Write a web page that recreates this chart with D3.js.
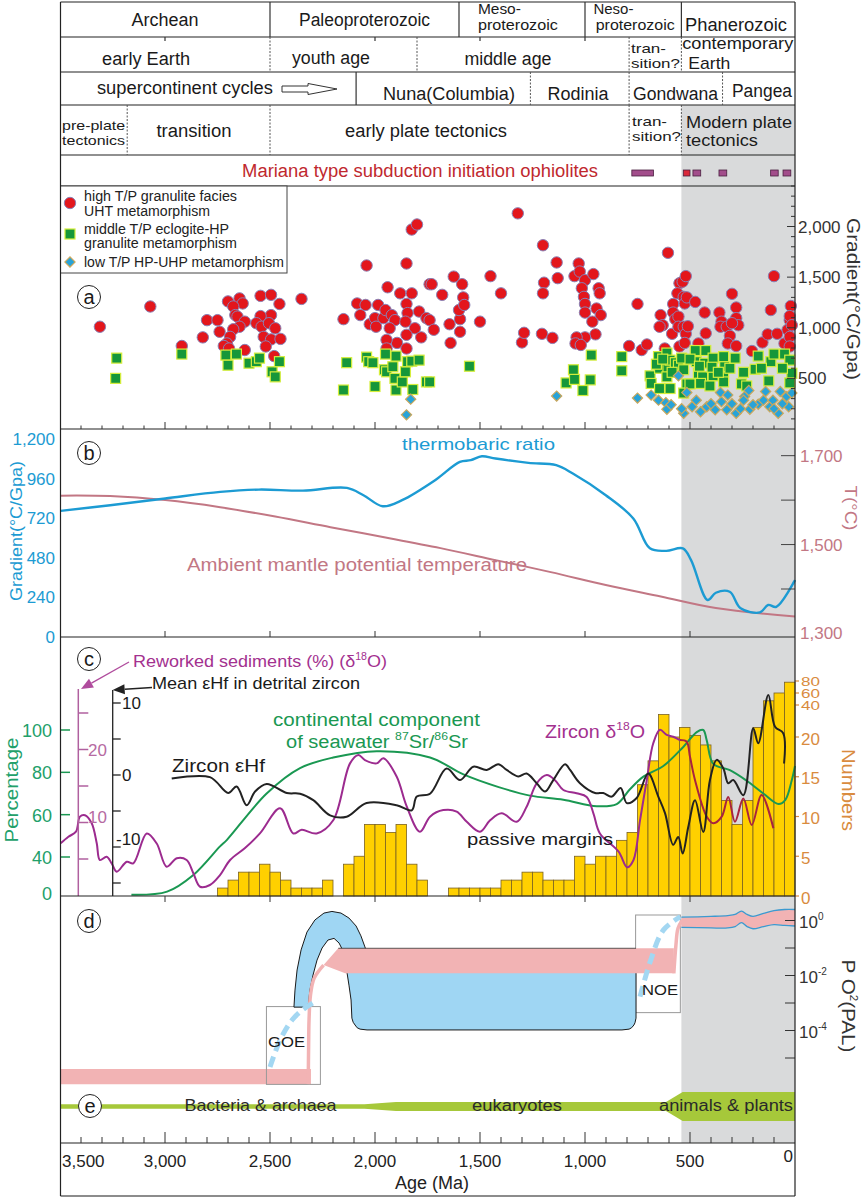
<!DOCTYPE html>
<html lang="en">
<head>
<meta charset="UTF-8">
<title>Earth evolution through time</title>
<script src="https://d3js.org/d3.v7.min.js"></script>
<style>
  body { margin: 0; background: #fff; }
  svg { display: block; }
</style>
</head>
<body>
<script>
// ---------------- data ----------------
const eraBreaks = [2500, 1600, 1000, 541];
const stageBreaks = [2500, 1800, 790, 541];
const nunaStart = 2090;
const supercontinentBreaks = [1260, 790, 345];
const tectonicBreaks = [3180, 2500, 790, 541];
const headerTicks = [3000, 2000, 1500, 1000];
const phanerozoicStart = 541;

// [from Ma, to Ma, colour]
const ophiolites = [[777, 674, "#a24d8b"], [532, 500, "#d9283a"], [486, 449, "#a24d8b"],
  [362, 325, "#a24d8b"], [116, 80, "#a24d8b"], [57, 20, "#a24d8b"]];

// panel a: [age Ma, gradient °C/GPa]
const uhtPoints = [
  [3310,1010],[3070,1210],[2920,820],[2820,905],[2800,1075],[2750,1075],[2740,960],[2700,1260],[2645,1290],[2630,1240],
  [2675,1210],[2665,1125],[2655,1110],[2620,1060],[2645,1010],[2675,985],[2690,910],[2705,845],[2720,820],[2695,795],
  [2620,780],[2545,1315],[2495,1325],[2455,1235],[2495,1125],[2545,1115],[2565,1045],[2540,1010],[2505,1045],[2475,995],
  [2530,910],[2495,885],[2450,890],[2520,815],[2480,720],[2350,1285],[2150,1085],[2085,1240],[2070,1125],[2045,1225],
  [2040,1615],[1985,1225],[2025,1035],[2000,1095],[1995,1010],[1960,1095],[1950,1175],[1940,1400],[1920,1125],[1905,1075],
  [1930,995],[1880,1340],[1850,1635],[1825,1340],[1825,1970],[1800,2020],[1850,1235],[1845,1145],[1855,1060],[1810,995],
  [1790,1160],[1740,1430],[1755,1095],[1780,905],[1850,930],[1895,850],[1945,880],[1945,795],[1850,795],[1730,1430],
  [1740,1075],[1720,980],[1680,1325],[1645,1035],[1640,850],[1625,1505],[1595,1085],[1595,960],[1600,1175],[1585,1430],
  [1580,1300],[1575,1225],[1500,1060],[1450,1510],[1400,1340],[1320,2130],[1300,855],[1290,950],[1205,940],[1200,1815],
  [1195,1445],[1200,1340],[1155,900],[1135,1645],[1130,1490],[1050,1510],[1030,1635],[1025,1555],[1000,1470],[1015,1390],
  [1005,1305],[1000,1235],[1000,1150],[960,1530],[935,1390],[930,1340],[945,1190],[925,1125],[965,1060],[950,935],
  [1000,905],[1040,905],[1045,845],[1020,830],[790,820],[750,1235],[730,780],[705,835],[640,1125],[630,1025],
  [645,1010],[620,795],[605,1740],[585,940],[580,1235],[580,1150],[570,1085],[555,1110],[555,1010],[550,815],
  [550,1440],[560,1340],[535,1455],[520,1510],[530,1305],[525,1240],[530,1010],[520,940],[525,850],[510,1015],
  [515,1300],[475,1255],[460,845],[430,1150],[425,945],[360,1150],[350,1060],[355,1010],[325,1010],[300,1335],
  [280,1200],[280,1095],[270,1025],[300,1045],[310,920],[320,845],[280,820],[205,770],[155,855],[130,935],
  [115,1175],[100,1510],[85,940],[50,845],[35,980],[25,1075],[20,1215],[25,1115],[15,1025],[25,910],[25,815]
];
const hpPoints = [
  [3230,700],[3235,500],[2920,740],[2710,730],[2700,630],[2660,740],[2600,650],[2565,665],[2550,700],[2490,565],
  [2475,515],[2455,665],[2135,655],[2150,385],[2040,710],[2030,665],[2010,655],[2000,420],[1950,740],[1900,720],
  [1955,585],[1945,565],[1915,615],[1905,500],[1900,385],[1870,465],[1855,565],[1845,665],[1825,670],[1790,680],
  [1820,390],[1755,465],[1740,465],[1550,620],[1090,455],[1055,585],[1050,490],[1010,380],[975,485],[970,730],
  [825,715],[825,575],[690,525],[685,450],[650,715],[645,600],[610,750],[605,600],[595,680],[570,655],
  [610,515],[645,400],[595,400],[555,630],[530,585],[515,445],[530,355],[475,775],[425,775],[470,665],
  [430,650],[390,700],[340,715],[335,615],[460,550],[440,515],[390,525],[340,515],[500,445],[450,450],
  [405,425],[340,465],[255,445],[230,425],[190,590],[175,720],[125,475],[115,665],[100,740],[50,740],
  [25,680],[15,550],[25,455],[660,640],[630,690],[585,560],[540,700],[500,690],[455,620],[395,610],
  [365,560],[310,600],[285,700],[245,560],[160,600],[60,600]
];
const uhpPoints = [
  [1830,295],[1850,140],[1135,325],[750,305],[685,335],[650,285],[615,260],[610,195],[555,525],[530,155],
  [515,360],[490,220],[470,285],[450,170],[420,220],[380,190],[355,360],[350,270],[320,335],[325,190],
  [280,155],[240,320],[220,380],[215,195],[175,245],[150,285],[140,370],[120,220],[80,155],[70,370],
  [40,320],[30,220],[15,355],[245,285],[105,285],[400,250],[300,250],[260,200],[200,240],[100,200],
  [60,250],[540,200],[590,240]
];

// panel b
const thermoRatio = [[3497,764],[3261,798],[2999,839],[2737,879],[2553,893],[2343,887],[2134,903],[2055,859],
  [1963,792],[1871,829],[1714,950],[1596,1061],[1544,1071],[1491,1095],[1426,1081],[1269,1055],[1137,1041],
  [1058,990],[901,859],[770,718],[691,537],[613,522],[534,537],[495,466],[416,224],[377,268],[311,274],
  [259,174],[167,149],[128,194],[89,183],[0,345]];
const mantleTemp = [[3497,1610],[3261,1609],[2999,1600],[2737,1584],[2475,1563],[2212,1539],[1950,1516],
  [1688,1492],[1426,1465],[1163,1438],[901,1409],[639,1383],[377,1357],[0,1338]];

// panel c
const srContinental = [[3160,-2],[2990,1.5],[2865,20],[2738,45],[2706,48],[2516,70],[2357,82],[2199,87],[1992,90],
  [1738,87],[1579,79],[1411,73],[1262,69],[1103,67],[944,64],[849,65],[786,72],[722,78],[627,83],[532,92],
  [468,99],[437,100],[420,95],[389,84],[310,81],[230,76],[151,70],[78,65],[46,67],[16,76],[0,83]];
const zirconHf = [[2968,-0.5],[2786,-0.3],[2699,-2.5],[2659,-1.6],[2611,-4.2],[2571,-2.3],[2516,-1.25],[2420,-2.5],
  [2357,-2.6],[2294,-3.5],[2214,-5.6],[2135,-5.8],[2040,-3.9],[1897,-4.2],[1825,-4.9],[1801,-3.0],[1738,-2.6],
  [1659,0.9],[1595,-0.7],[1532,1.15],[1468,0.7],[1413,1.5],[1373,0.7],[1318,-0.2],[1278,0.2],[1230,-1.15],
  [1190,-2.3],[1151,-0.7],[1095,1.5],[1071,0.7],[1024,-1.15],[952,-2.5],[913,-2.5],[873,-3.0],[830,-1.8],
  [801,-3.9],[754,-3.2],[699,0.2],[651,-3.0],[619,-5.3],[580,-9.7],[556,-8.6],[535,-10.9],[508,-7.2],
  [476,-3.5],[437,-7.9],[405,-0.7],[373,2.1],[341,0.9],[318,-1.15],[294,-0.7],[246,-2.8],[199,6.5],
  [175,4.4],[127,11.1],[95,6.7],[56,5.8],[52,1.6]];
const zirconO18 = [[3497,7.15],[3460,8.05],[3424,8.74],[3405,10.8],[3381,11.0],[3349,9.9],[3325,7.15],[3310,4.86],
  [3278,5.3],[3254,4.4],[3230,3.26],[3182,4.63],[3151,4.4],[3087,8.5],[3040,7.15],[2992,3.95],[2944,5.1],
  [2897,4.86],[2865,3.04],[2833,1.2],[2786,1.44],[2738,2.8],[2690,4.86],[2619,6.5],[2548,8.5],[2452,11.95],
  [2389,8.5],[2349,9.0],[2278,8.5],[2199,10.3],[2119,18.1],[2079,19.25],[2048,18.55],[1992,18.1],[1960,18.8],
  [1897,16.3],[1849,12.2],[1786,8.74],[1738,10.8],[1675,11.7],[1611,11.5],[1563,10.1],[1500,8.74],[1452,10.3],
  [1397,11.26],[1325,10.1],[1278,12.16],[1230,15.37],[1182,16.5],[1143,15.8],[1103,14.45],[1040,14.0],
  [992,13.5],[960,11.26],[929,8.5],[840,6.0],[799,3.86],[769,4.86],[738,10.3],[706,15.8],[675,20.85],
  [643,22.7],[611,22.0],[580,21.75],[548,21.3],[516,21.07],[500,19.0],[476,15.8],[420,10.8],[389,9.9],
  [349,10.8],[318,13.5],[286,10.1],[246,13.3],[206,9.66],[159,13.77],[103,9.2]];
const o18Split = 548;
// detrital zircon / passive margin numbers, 50 Myr bins [bin start Ma, count]
const marginBins = [[2700,1],[2650,2],[2600,3],[2550,3],[2500,4],[2450,3],[2400,2],[2350,1],[2300,1],[2250,1],
  [2200,2],[2100,4],[2050,5],[2000,9],[1950,9],[1900,8],[1850,9],[1800,4],[1750,2],[1600,1],[1550,1],[1500,1],
  [1450,1],[1400,1],[1350,2],[1300,2],[1250,3],[1200,3],[1150,2],[1100,2],[1050,2],[1000,5],[950,4],[900,5],
  [850,5],[800,7],[750,8],[700,14],[650,17],[600,34],[550,20],[500,26],[450,21],[400,19],[350,17],[300,12],
  [250,9],[200,12],[150,26],[100,47],[50,60],[0,78]];
const binWidth = 50;

// tick labels
const gradientTicksA = [500, 1000, 1500, 2000];
const gradientTicksB = [0, 240, 480, 720, 960, 1200];
const tempTicks = [1300, 1500, 1700];
const tempMinor = [1400, 1500, 1600, 1700];
const pctTicks = [0, 40, 60, 80, 100];
const hfTicks = [10, 5, 0, -5, -10, -15];
const hfLabels = [10, 0, -10];
const rwTicks = [25, 20, 15, 10, 5];
const rwLabels = [20, 10];
const numTicks = [0, 5, 10, 15, 20, 40, 60, 80];
const o2Ticks = [0, -1, -2, -3, -4, -5];
const o2Labels = [0, -2, -4];
const ageTicks = [3500, 3000, 2500, 2000, 1500, 1000, 500, 0];

// panel d, oxygen [age Ma, log10 pO2 (PAL)]
const archeanO2 = [[3500,-5.4,-5.95],[2305,-5.4,-5.95]];
const goeBox = [[2517,-3.13],[2260,-5.96]];
const noeBox = [[759,0.2],[546,-3.35]];
const blueLobe = [[2386,-3.15],[2381,-2.53],[2371,-1.8],[2352,-1.07],[2324,-0.42],[2286,0.02],[2243,0.27],
  [2205,0.33],[2162,0.27],[2124,0.09],[2090,-0.2],[2067,-0.56],[2048,-0.96],[2043,-1.07],[757,-1.07],
  [757,-3.55],[762,-3.72],[767,-3.8],[778,-3.9],[790,-3.95],[824,-3.98],[2038,-3.98],[2071,-3.95],[2085,-3.9],
  [2095,-3.8],[2104,-3.7],[2110,-3.55],[2114,-2.89],[2124,-2.35],[2133,-1.91],[2138,-1.51],[2152,-1.11],
  [2171,-0.82],[2195,-0.65],[2224,-0.71],[2252,-1.0],[2276,-1.44],[2295,-1.98],[2310,-2.53],[2319,-3.15]];
const pinkArrow = [[2245,-1.62],[2175,-1.01],[577,-1.01],[577,-1.92],[2142,-1.92]];
const goeRise = [[2318,-5.95],[2316,-4.5],[2314,-3.6],[2307,-2.7],[2290,-2.1],[2245,-1.62]];
const goeDash = [[2500,-5.33],[2452,-4.35],[2395,-3.62],[2333,-3.18],[2271,-2.89]];
const noeDash = [[738,-2.77],[687,-1.44],[627,-0.35],[546,0.14]];
const noeRise = [[577,-1.92],[567,-0.89],[557,-0.28],[536,0.02]];
const modernO2 = [[541,0.12,-0.25],[400,0.15,-0.27],[320,0.18,-0.27],[285,0.22,-0.22],[255,0.34,-0.08],
  [228,0.22,-0.22],[200,0.15,-0.3],[150,0.26,-0.22],[100,0.36,-0.15],[50,0.4,-0.18],[0,0.4,-0.2]];

// panel e, life band [age, half width]
const lifeBand = [[3500,2.2],[2050,2.2],[1900,4.5],[560,4.5]];
const animalsBand = [[650,0],[535,14.5],[0,14.5]];

// ---------------- drawing ----------------
const W = 863, H = 1198;
const FONT = "'Liberation Sans', Arial, Helvetica, sans-serif";
const svg = d3.select("body").append("svg")
  .attr("width", W).attr("height", H)
  .style("font-family", FONT);
svg.append("rect").attr("width", W).attr("height", H).attr("fill", "#fff");

const x = d3.scaleLinear().domain([3500, 0]).range([60, 795]);
const xL = 60.5, xR = 795;
const rows = [2, 37, 72, 105, 155, 186];
const yA = d3.scaleLinear().domain([0, 2400]).range([429, 186]);
const yB = d3.scaleLinear().domain([0, 1260]).range([637, 429]);
const yT = d3.scaleLinear().domain([1292, 1760]).range([637, 429]);
const yPct = d3.scaleLinear().domain([0, 40, 100]).range([893, 857, 730]);
const yHf = d3.scaleLinear().domain([-15, 10]).range([883, 703]);
const yRw = d3.scaleLinear().domain([5, 25]).range([859, 713]);
const yNum = d3.scaleLinear().domain([0, 20, 40, 60, 80]).range([896, 737, 705, 693, 681]);
const yO2 = d3.scaleLinear().domain([-5, 0]).range([1058, 920.5]);
const yE = d3.scaleLinear().domain([-15, 15]).range([1121.5, 1091.5]);

const BLUE = "#1c9bd3", MAUVE = "#c27784", GREEN = "#1a9852", PURPLE = "#9c2b8f",
  ORANGE = "#d98b3e", INK = "#1a1a1a";

function text(g, px, py, s, o = {}) {
  const t = g.append("text").attr("x", px).attr("y", py)
    .attr("font-size", o.size || 17).attr("fill", o.fill || INK)
    .attr("text-anchor", o.anchor || "start");
  if (o.html) t.html(s); else t.text(s);
  if (o.len) t.attr("textLength", o.len).attr("lengthAdjust", "spacingAndGlyphs");
  return t;
}
function rotText(g, px, py, rot, s, o = {}) {
  const t = g.append("text").attr("transform", `translate(${px},${py}) rotate(${rot})`)
    .attr("font-size", o.size || 18).attr("fill", o.fill || INK).attr("text-anchor", "middle");
  if (o.html) t.html(s); else t.text(s);
  if (o.len) t.attr("textLength", o.len).attr("lengthAdjust", "spacingAndGlyphs");
  return t;
}
function hline(y, c = "#222", w = 1.2) {
  svg.append("line").attr("x1", xL).attr("x2", xR).attr("y1", y).attr("y2", y)
    .attr("stroke", c).attr("stroke-width", w);
}
function vline(age, y0, y1, dashed) {
  svg.append("line").attr("x1", x(age)).attr("x2", x(age)).attr("y1", y0).attr("y2", y1)
    .attr("stroke", dashed ? "#555" : "#333").attr("stroke-width", dashed ? 1 : 1.2)
    .attr("stroke-dasharray", dashed ? "2,1.5" : null);
}
function panelLabel(cx, cy, s) {
  svg.append("circle").attr("cx", cx).attr("cy", cy).attr("r", 11.5)
    .attr("fill", "#fff").attr("stroke", "#222").attr("stroke-width", 1);
  text(svg, cx, cy + 7, s, { size: 20, anchor: "middle" });
}

// grey Phanerozoic band
svg.append("rect").attr("x", x(phanerozoicStart)).attr("y", rows[3])
  .attr("width", xR - x(phanerozoicStart)).attr("height", 1143 - rows[3]).attr("fill", "#d9dadb");

// ---------- header ----------
rows.forEach(r => hline(r));
eraBreaks.forEach(a => vline(a, rows[0], rows[1], false));
headerTicks.forEach(a => vline(a, rows[1], rows[1] + 4, false));
stageBreaks.forEach(a => vline(a, rows[1], rows[2], true));
vline(nunaStart, rows[2], rows[3], false);
supercontinentBreaks.forEach(a => vline(a, rows[2], rows[3], true));
tectonicBreaks.forEach(a => vline(a, rows[3], rows[4], true));

const headerLabels = [
  { t: "Archean", a: 3000, y: 26, anchor: "middle", len: 67, size: 18 },
  { t: "Paleoproterozoic", a: 2050, y: 26, anchor: "middle", len: 131, size: 18 },
  { t: "Meso-", a: 1510, y: 14, len: 43, size: 14 },
  { t: "proterozoic", a: 1510, y: 30, len: 80, size: 14 },
  { t: "Neso-", a: 960, y: 14, len: 40, size: 14 },
  { t: "proterozoic", a: 949, y: 30, len: 79, size: 14 },
  { t: "Phanerozoic", a: 524, y: 30.5, len: 102, size: 17.5 },
  { t: "early Earth", a: 3090, y: 65, anchor: "middle", len: 88, size: 18 },
  { t: "youth age", a: 2210, y: 64, anchor: "middle", len: 78, size: 18 },
  { t: "middle age", a: 1367, y: 65, anchor: "middle", len: 87, size: 18 },
  { t: "tran-", a: 781, y: 52.5, len: 35, size: 13.5 },
  { t: "sition?", a: 781, y: 68, len: 49, size: 13.5 },
  { t: "contemporary", a: 537, y: 49, len: 111, size: 16 },
  { t: "Earth", a: 508, y: 68.5, len: 42, size: 17 },
  { t: "supercontinent cycles", a: 3324, y: 94, len: 176, size: 18 },
  { t: "Nuna(Columbia)", a: 1962, y: 100, len: 132, size: 18 },
  { t: "Rodinia", a: 1033, y: 100, anchor: "middle", len: 61, size: 18 },
  { t: "Gondwana", a: 771, y: 100, len: 85, size: 18 },
  { t: "Pangea", a: 300, y: 97, len: 60, size: 18 },
  { t: "pre-plate", a: 3490, y: 129.5, len: 63, size: 13 },
  { t: "tectonics", a: 3490, y: 144.5, len: 63, size: 13 },
  { t: "transition", a: 2862, y: 137, anchor: "middle", len: 75, size: 18 },
  { t: "early plate tectonics", a: 1757, y: 137, anchor: "middle", len: 162, size: 18 },
  { t: "tran-", a: 776, y: 126, len: 35, size: 13 },
  { t: "sition?", a: 776, y: 141, len: 49, size: 13 },
  { t: "Modern plate", a: 519, y: 128, len: 106, size: 17 },
  { t: "tectonics", a: 519, y: 146, len: 72, size: 17 }
];
headerLabels.forEach(d => text(svg, x(d.a), d.y, d.t, d));

// hollow arrow after "supercontinent cycles"
svg.append("polygon")
  .attr("points", [[282, 86], [308, 86], [308, 83.5], [337, 89], [308, 94.5], [308, 92], [282, 92]].join(" "))
  .attr("fill", "#fff").attr("stroke", "#333").attr("stroke-width", 1);

text(svg, x(2633), 176.5, "Mariana  type subduction initiation ophiolites",
  { fill: "#c0282e", len: 356, size: 18 });
svg.selectAll("rect.oph").data(ophiolites).join("rect").attr("class", "oph")
  .attr("x", d => x(d[0])).attr("width", d => x(d[1]) - x(d[0]))
  .attr("y", 170).attr("height", 6)
  .attr("fill", d => d[2]).attr("stroke", "#4a2040").attr("stroke-width", 0.8);

// ---------- panel a ----------
const gA = svg.append("g");
gA.selectAll("circle.uht").data(uhtPoints).join("circle").attr("class", "uht")
  .attr("cx", d => x(d[0])).attr("cy", d => yA(d[1])).attr("r", 5.7)
  .attr("fill", "#e3161c").attr("stroke", "#8a80b4").attr("stroke-width", 1);
gA.selectAll("rect.hp").data(hpPoints).join("rect").attr("class", "hp")
  .attr("x", d => x(d[0]) - 5).attr("y", d => yA(d[1]) - 5).attr("width", 10).attr("height", 10)
  .attr("fill", "#16973a").attr("stroke", "#d6ee3c").attr("stroke-width", 1.2);
gA.selectAll("path.uhp").data(uhpPoints).join("path").attr("class", "uhp")
  .attr("d", d3.symbol().type(d3.symbolSquare).size(52))
  .attr("transform", d => `translate(${x(d[0])},${yA(d[1])}) rotate(45)`)
  .attr("fill", "#28a3d8").attr("stroke", "#c9a75c").attr("stroke-width", 1.2);

// legend
gA.append("rect").attr("x", xL).attr("y", 186).attr("width", 287 - xL).attr("height", 87)
  .attr("fill", "#fff").attr("stroke", "#444").attr("stroke-width", 1);
gA.append("circle").attr("cx", 70).attr("cy", 203).attr("r", 5.7)
  .attr("fill", "#e3161c").attr("stroke", "#8a80b4");
gA.append("rect").attr("x", 65).attr("y", 229).attr("width", 10).attr("height", 10)
  .attr("fill", "#16973a").attr("stroke", "#d6ee3c").attr("stroke-width", 1.2);
gA.append("path").attr("d", d3.symbol().type(d3.symbolSquare).size(52))
  .attr("transform", "translate(70,262) rotate(45)")
  .attr("fill", "#28a3d8").attr("stroke", "#c9a75c").attr("stroke-width", 1.2);
[["high T/P granulite facies", 201, 153], ["UHT metamorphism", 216, 126],
 ["middle T/P eclogite-HP", 234, 145], ["granulite metamorphism", 248, 153],
 ["low T/P HP-UHP metamorphism", 267, 200]]
  .forEach(d => text(gA, 84, d[1], d[0], { size: 14, len: d[2], fill: "#222" }));

// right gradient axis
d3.range(100, 2401, 100).forEach(v => {
  gA.append("line").attr("x1", xR - (v % 500 === 0 ? 8 : 4)).attr("x2", xR)
    .attr("y1", yA(v)).attr("y2", yA(v)).attr("stroke", "#333").attr("stroke-width", 1);
});
gradientTicksA.forEach(v => text(gA, 798, yA(v) + 6, d3.format(",")(v), { size: 17, fill: "#333" }));
rotText(gA, 847, 299, 90, "Gradient(°C/Gpa)", { size: 19, len: 162, fill: "#333" });

// ---------- panel b ----------
const gB = svg.append("g");
gB.append("path").datum(mantleTemp)
  .attr("d", d3.line().x(d => x(d[0])).y(d => yT(d[1])).curve(d3.curveCatmullRom))
  .attr("fill", "none").attr("stroke", MAUVE).attr("stroke-width", 2);
gB.append("path").datum(thermoRatio)
  .attr("d", d3.line().x(d => x(d[0])).y(d => yB(d[1])).curve(d3.curveCatmullRom))
  .attr("fill", "none").attr("stroke", BLUE).attr("stroke-width", 2.4);
gradientTicksB.forEach(v => text(gB, 55, yB(v) + 6, d3.format(",")(v), { size: 17, fill: BLUE, anchor: "end" }));
rotText(gB, 22, 531, -90, "Gradient(°C/Gpa)", { size: 17, len: 140, fill: BLUE });
tempMinor.forEach(v => gB.append("line").attr("x1", xR - 14).attr("x2", xR)
  .attr("y1", yT(v)).attr("y2", yT(v)).attr("stroke", "#444").attr("stroke-width", 1));
tempTicks.forEach(v => text(gB, 800, yT(v) + 6, d3.format(",")(v), { size: 17, fill: MAUVE }));
rotText(gB, 845, 508, 90, "T(°C)", { size: 17, len: 45, fill: MAUVE });
text(gB, 402, 450, "thermobaric ratio", { size: 17, len: 153, fill: BLUE });
text(gB, 187, 571, "Ambient mantle potential temperature", { size: 17.5, len: 340, fill: MAUVE });

// ---------- panel c ----------
const gC = svg.append("g");
gC.selectAll("rect.bin").data(marginBins).join("rect").attr("class", "bin")
  .attr("x", d => x(d[0] + binWidth)).attr("width", d => x(d[0]) - x(d[0] + binWidth))
  .attr("y", d => yNum(d[1])).attr("height", d => yNum(0) - yNum(d[1]))
  .attr("fill", "#ffd000").attr("stroke", "#7a6222").attr("stroke-width", 0.8);

gC.append("path").datum(srContinental)
  .attr("d", d3.line().x(d => x(d[0])).y(d => yPct(d[1])).curve(d3.curveCatmullRom))
  .attr("fill", "none").attr("stroke", GREEN).attr("stroke-width", 2);
const o18Line = d3.line().x(d => x(d[0])).y(d => yRw(d[1])).curve(d3.curveCatmullRom);
gC.append("path").datum(zirconO18.filter(d => d[0] >= o18Split))
  .attr("d", o18Line).attr("fill", "none").attr("stroke", PURPLE).attr("stroke-width", 2);
gC.append("path").datum(zirconO18.filter(d => d[0] <= o18Split))
  .attr("d", o18Line).attr("fill", "none").attr("stroke", "#a8243f").attr("stroke-width", 2);
gC.append("path").datum(zirconHf)
  .attr("d", d3.line().x(d => x(d[0])).y(d => yHf(d[1])).curve(d3.curveCatmullRom))
  .attr("fill", "none").attr("stroke", "#222").attr("stroke-width", 2);

// percentage axis
pctTicks.filter(v => v > 0).forEach(v => gC.append("line").attr("x1", xL).attr("x2", 70)
  .attr("y1", yPct(v)).attr("y2", yPct(v)).attr("stroke", GREEN).attr("stroke-width", 1.5));
pctTicks.forEach(v => text(gC, 52, yPct(v) + 7, v, { size: 18, fill: "#22a06a", anchor: "end" }));
rotText(gC, 18, 790, -90, "Percentage", { size: 18.5, len: 105, fill: "#22a06a" });

// reworked sediments axis
const xRw = 78.3;
gC.append("line").attr("x1", xRw).attr("x2", xRw).attr("y1", 689).attr("y2", 896)
  .attr("stroke", "#b0609f").attr("stroke-width", 1.5);
rwTicks.forEach(v => gC.append("line").attr("x1", xRw).attr("x2", xRw + 10)
  .attr("y1", yRw(v)).attr("y2", yRw(v)).attr("stroke", "#b0609f").attr("stroke-width", 1.5));
rwLabels.forEach(v => text(gC, 88, yRw(v) + (v === 10 ? 0 : 6), v, { size: 17, fill: "#b66aa2" }));

// mean eHf axis
const xHf = 112.7;
gC.append("line").attr("x1", xHf).attr("x2", xHf).attr("y1", 690).attr("y2", 896)
  .attr("stroke", "#222").attr("stroke-width", 1.3);
hfTicks.forEach(v => gC.append("line").attr("x1", xHf).attr("x2", xHf + 8)
  .attr("y1", yHf(v)).attr("y2", yHf(v)).attr("stroke", "#222").attr("stroke-width", 1.3));
hfLabels.forEach(v => text(gC, v < 0 ? 116 : 122, yHf(v) + (v < 0 ? -2 : 6), v, { size: 17 }));

// arrows to the axes
function arrow(g, x0, y0, x1, y1, c) {
  const dx = x1 - x0, dy = y1 - y0, n = Math.hypot(dx, dy), ux = dx / n, uy = dy / n;
  const bx = x1 - ux * 12, by = y1 - uy * 12;
  g.append("line").attr("x1", x0).attr("y1", y0).attr("x2", bx).attr("y2", by)
    .attr("stroke", c).attr("stroke-width", 1.3);
  g.append("polygon").attr("points",
    [[x1, y1], [bx - uy * 5, by + ux * 5], [bx + uy * 5, by - ux * 5]].join(" ")).attr("fill", c);
}
arrow(gC, 129, 662, 81, 689, "#b04c9d");
arrow(gC, 152, 687.5, xHf, 690, "#222");

// numbers axis
numTicks.forEach(v => gC.append("line").attr("x1", xR).attr("x2", xR + 4)
  .attr("y1", yNum(v)).attr("y2", yNum(v)).attr("stroke", ORANGE).attr("stroke-width", 1.2));
numTicks.forEach(v => {
  const tight = v > 20;
  text(gC, 801, yNum(v) + (tight ? 4.5 : 7.5), v,
    { size: tight ? 12 : 17, len: tight ? 19 : null, fill: ORANGE });
});
rotText(gC, 842, 790, 90, "Numbers", { size: 19, len: 82, fill: ORANGE });

text(gC, 133, 667, 'Reworked sediments (%) (δ<tspan font-size="10" dy="-7">18</tspan><tspan dy="7">O)</tspan>',
  { html: true, size: 17, len: 254, fill: "#a3318f" });
text(gC, 152, 689, "Mean εHf in detrital zircon", { size: 17, len: 208 });
text(gC, 273, 726, "continental component", { size: 18, len: 207, fill: GREEN });
text(gC, 286, 748, 'of seawater <tspan font-size="11" dy="-8">87</tspan><tspan dy="8">Sr/</tspan><tspan font-size="11" dy="-8">86</tspan><tspan dy="8">Sr</tspan>',
  { html: true, size: 18, len: 182, fill: GREEN });
text(gC, 172, 772, "Zircon εHf", { size: 18, len: 93 });
text(gC, 545, 738, 'Zircon δ<tspan font-size="11" dy="-8">18</tspan><tspan dy="8">O</tspan>',
  { html: true, size: 18, len: 100, fill: "#a3318f" });
text(gC, 467, 845, "passive margins", { size: 17, len: 146 });

// ---------- panel d ----------
const gD = svg.append("g");
const lx = d => x(d[0]), ly = d => yO2(d[1]);
gD.append("path").datum(archeanO2)
  .attr("d", d3.area().x(lx).y0(d => yO2(d[2])).y1(ly))
  .attr("fill", "#f2b3b4");
gD.append("rect").attr("x", x(goeBox[0][0])).attr("y", yO2(goeBox[0][1]))
  .attr("width", x(goeBox[1][0]) - x(goeBox[0][0])).attr("height", yO2(goeBox[1][1]) - yO2(goeBox[0][1]))
  .attr("fill", "none").attr("stroke", "#999").attr("stroke-width", 1);
gD.append("rect").attr("x", x(noeBox[0][0])).attr("y", yO2(noeBox[0][1]))
  .attr("width", x(noeBox[1][0]) - x(noeBox[0][0])).attr("height", yO2(noeBox[1][1]) - yO2(noeBox[0][1]))
  .attr("fill", "none").attr("stroke", "#999").attr("stroke-width", 1);
gD.append("path").datum(blueLobe)
  .attr("d", d3.line().x(lx).y(ly).curve(d3.curveLinearClosed))
  .attr("fill", "#9fd6f3").attr("stroke", "#1a1a1a").attr("stroke-width", 1)
  .attr("stroke-linejoin", "round");
gD.append("path").datum(pinkArrow)
  .attr("d", d3.line().x(lx).y(ly).curve(d3.curveLinearClosed))
  .attr("fill", "#f2b3b4");
gD.append("line").attr("x1", x(2175)).attr("x2", x(757)).attr("y1", yO2(-1.01)).attr("y2", yO2(-1.01))
  .attr("stroke", "#333").attr("stroke-width", 0.8);
const smooth = d3.line().x(lx).y(ly).curve(d3.curveCatmullRom);
gD.append("path").datum(goeRise).attr("d", smooth)
  .attr("fill", "none").attr("stroke", "#f2b3b4").attr("stroke-width", 3.5);
gD.append("path").datum(noeRise).attr("d", smooth)
  .attr("fill", "none").attr("stroke", "#f2b3b4").attr("stroke-width", 3.5);
gD.append("path").datum(goeDash).attr("d", smooth)
  .attr("fill", "none").attr("stroke", "#a3d7f2").attr("stroke-width", 5).attr("stroke-dasharray", "11,6");
gD.append("path").datum(noeDash).attr("d", smooth)
  .attr("fill", "none").attr("stroke", "#a3d7f2").attr("stroke-width", 5).attr("stroke-dasharray", "11,6");
gD.append("path").datum(modernO2)
  .attr("d", d3.area().x(lx).y0(d => yO2(d[2])).y1(ly).curve(d3.curveCatmullRom))
  .attr("fill", "#f2b3b4");
gD.append("path").datum(modernO2).attr("d", smooth)
  .attr("fill", "none").attr("stroke", "#3b9ad0").attr("stroke-width", 1.3);
gD.append("path").datum(modernO2.map(d => [d[0], d[2]])).attr("d", smooth)
  .attr("fill", "none").attr("stroke", "#3b9ad0").attr("stroke-width", 1.3);
text(gD, 268, 1047, "GOE", { size: 15, len: 37 });
text(gD, 642, 995, "NOE", { size: 15, len: 36 });

o2Ticks.forEach(v => gD.append("line").attr("x1", xR - 10).attr("x2", xR)
  .attr("y1", yO2(v)).attr("y2", yO2(v)).attr("stroke", "#333").attr("stroke-width", 1));
o2Labels.forEach(v => text(gD, 799, yO2(v) + 7, `10<tspan font-size="10" dy="-8">${v}</tspan>`,
  { html: true, size: 17, fill: "#333" }));
rotText(gD, 842, 1006, 90, 'P O<tspan font-size="10" dy="-8">2</tspan><tspan dy="8">(PAL)</tspan>',
  { html: true, size: 18, len: 93, fill: "#333" });

// ---------- panel e ----------
const gE = svg.append("g");
gE.append("path").datum(lifeBand)
  .attr("d", d3.area().x(lx).y0(d => yE(-d[1])).y1(d => yE(d[1])))
  .attr("fill", "#a6c83a");
gE.append("path").datum(animalsBand)
  .attr("d", d3.area().x(lx).y0(d => yE(-d[1])).y1(d => yE(d[1])))
  .attr("fill", "#a6c83a");
text(gE, 184.5, 1111, "Bacteria & archaea", { size: 16, len: 152, fill: "#2a2a2a" });
text(gE, 472, 1111, "eukaryotes", { size: 16, len: 90, fill: "#2a2a2a" });
text(gE, 659, 1111, "animals & plants", { size: 16, len: 134, fill: "#2a2a2a" });

// ---------- frame and age axes ----------
[429, 637, 896, 1143].forEach(y => hline(y));
hline(1196, "#666", 1.5);
svg.append("line").attr("x1", xL).attr("x2", xL).attr("y1", rows[0]).attr("y2", 1196)
  .attr("stroke", "#222").attr("stroke-width", 1.2);
svg.append("line").attr("x1", xR).attr("x2", xR).attr("y1", rows[0]).attr("y2", 1196)
  .attr("stroke", "#222").attr("stroke-width", 1.2);

const minor = d3.range(100, 3500, 100);
minor.forEach(a => {
  const major = a % 500 === 0;
  svg.append("line").attr("x1", x(a)).attr("x2", x(a)).attr("y1", 429).attr("y2", 429 - (major ? 7 : 3.5))
    .attr("stroke", "#333").attr("stroke-width", 1);
  svg.append("line").attr("x1", x(a)).attr("x2", x(a)).attr("y1", 1143).attr("y2", 1143 - (major ? 11 : 6))
    .attr("stroke", "#333").attr("stroke-width", 1);
  if (major) {
    svg.append("line").attr("x1", x(a)).attr("x2", x(a)).attr("y1", 637).attr("y2", 631)
      .attr("stroke", "#333").attr("stroke-width", 1);
    svg.append("line").attr("x1", x(a)).attr("x2", x(a)).attr("y1", 896).attr("y2", 902)
      .attr("stroke", "#333").attr("stroke-width", 1);
  }
});
ageTicks.forEach(a => {
  const first = a === 3500, last = a === 0;
  text(svg, first ? 62 : last ? 793 : x(a), last ? 1162 : 1167, d3.format(",")(a),
    { size: 17, anchor: first ? "start" : last ? "end" : "middle", fill: "#222" });
});
text(svg, 432, 1189, "Age (Ma)", { size: 18, anchor: "middle", fill: "#222" });

// panel letters
panelLabel(89, 297, "a");
panelLabel(89, 453, "b");
panelLabel(89, 659, "c");
panelLabel(89, 921, "d");
panelLabel(90, 1106, "e");
</script>
</body>
</html>
